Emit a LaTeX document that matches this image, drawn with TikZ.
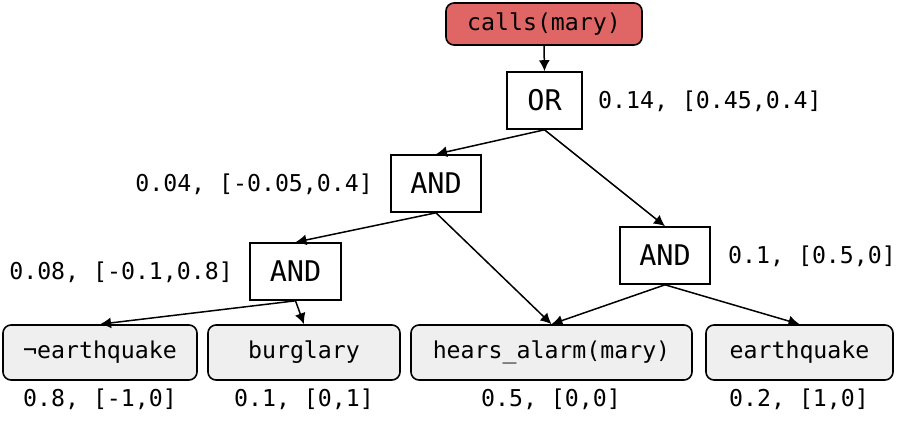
\documentclass[tikz,border=0pt]{standalone}
\usepackage{fontspec}
\setmonofont{DejaVu Sans Mono}
\usetikzlibrary{arrows.meta}
\definecolor{rootred}{HTML}{E06666}
\definecolor{leafgray}{HTML}{EFEFEF}
\tikzset{
  leaf/.style={draw, line width=1.6pt, rounded corners=8pt, fill=leafgray, minimum height=55pt, inner sep=0pt, font=\ttfamily\fontsize{23.2}{27}\selectfont},
  rootbox/.style={draw, line width=1.6pt, rounded corners=8pt, fill=rootred, minimum width=196pt, minimum height=42pt, inner sep=0pt, font=\ttfamily\fontsize{23.2}{27}\selectfont},
  gate/.style={draw, line width=1.6pt, fill=white, minimum height=57pt, inner sep=0pt, font=\ttfamily\fontsize{28.5}{33}\selectfont},
  val/.style={inner sep=0pt, font=\ttfamily\fontsize{23.2}{27}\selectfont},
  edge/.style={line width=1.5pt, -{Latex[length=11pt,width=11pt]}}
}
\begin{document}
\begin{tikzpicture}[x=1pt,y=-1pt]
\useasboundingbox (0,0) rectangle (913,423);
\node[rootbox] (root) at (544,24) {calls(mary)};
\node[gate, minimum width=75pt] (or) at (544.5,100.5) {OR};
\node[gate, minimum width=90pt] (and1) at (436,183.5) {AND};
\node[gate, minimum width=91pt] (and2) at (295.5,271.5) {AND};
\node[gate, minimum width=90pt] (and3) at (665,255.5) {AND};
\node[leaf, minimum width=194pt] (nearth) at (100,352.5) {¬earthquake};
\node[leaf, minimum width=192pt] (burg) at (304,352.5) {burglary};
\node[leaf, minimum width=281pt] (hears) at (551.5,352.5) {hears\_alarm(mary)};
\node[leaf, minimum width=187pt] (earth) at (799.5,352.5) {earthquake};
\node[val, anchor=west] (vor) at (598,101) {0.14, [0.45,0.4]};
\node[val, anchor=east] (vand1) at (373,184) {0.04, [-0.05,0.4]};
\node[val, anchor=east] (vand2) at (233,272) {0.08, [-0.1,0.8]};
\node[val, anchor=west] (vand3) at (728,256) {0.1, [0.5,0]};
\node[val] (vnearth) at (100,399) {0.8, [-1,0]};
\node[val] (vburg) at (304,399) {0.1, [0,1]};
\node[val] (vhears) at (551,399) {0.5, [0,0]};
\node[val] (vearth) at (799,399) {0.2, [1,0]};
\draw[edge] (root.south) -- (or.north);
\draw[edge] (or.south) -- (and1.north);
\draw[edge] (or.south) -- (and3.north);
\draw[edge] (and1.south) -- (and2.north);
\draw[edge] (and1.south) -- (hears.north);
\draw[edge] (and2.south) -- (nearth.north);
\draw[edge] (and2.south) -- (burg.north);
\draw[edge] (and3.south) -- (hears.north);
\draw[edge] (and3.south) -- (earth.north);
\end{tikzpicture}
\end{document}
